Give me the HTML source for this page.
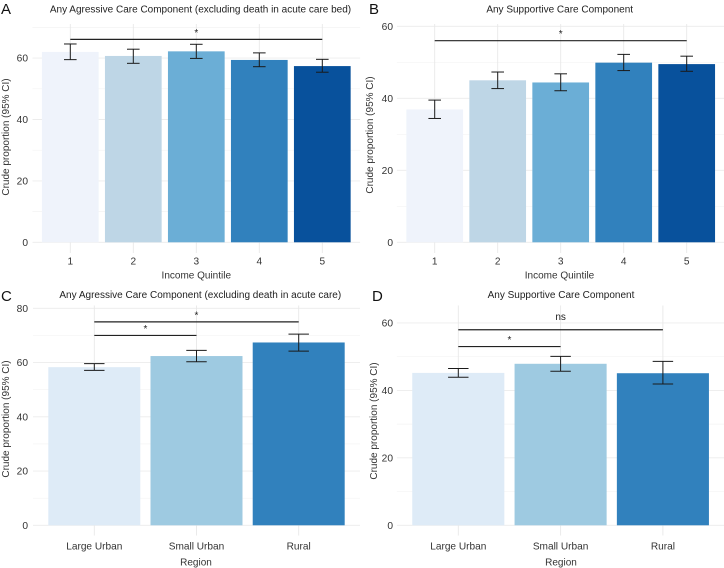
<!DOCTYPE html>
<html>
<head>
<meta charset="utf-8">
<title>Crude proportion charts</title>
<style>
html,body{margin:0;padding:0;background:#fff;}
#figure{display:block;width:724px;height:568px;font-family:"Liberation Sans",sans-serif;}
</style>
</head>
<body>
<svg id="figure" xmlns="http://www.w3.org/2000/svg" width="724" height="568" viewBox="0 0 724 568"></svg>
<script>
var quintiles = ["1","2","3","4","5"];
var regions = ["Large Urban","Small Urban","Rural"];

var quintileColors = ["#eff3fb","#bed6e6","#6baed6","#3181bd","#08519c"];
var regionColors = ["#deebf7","#9ecae1","#3181bd"];

var aValues = [62.0,60.7,62.2,59.4,57.4];
var aLower = [59.5,58.3,59.9,57.2,55.4];
var aUpper = [64.6,62.9,64.5,61.7,59.6];
var aMajorTicks = [0,20,40,60];
var aMinorTicks = [10,30,50,70];

var bValues = [36.9,45.0,44.4,49.9,49.5];
var bLower = [34.4,42.7,42.1,47.7,47.5];
var bUpper = [39.5,47.3,46.8,52.2,51.7];
var bMajorTicks = [0,20,40,60];
var bMinorTicks = [10,30,50];

var cValues = [58.3,62.4,67.4];
var cLower = [57.1,60.3,64.2];
var cUpper = [59.6,64.5,70.5];
var cMajorTicks = [0,20,40,60,80];
var cMinorTicks = [10,30,50,70];

var dValues = [45.2,47.9,45.1];
var dLower = [43.9,45.7,41.9];
var dUpper = [46.5,50.1,48.6];
var dMajorTicks = [0,20,40,60];
var dMinorTicks = [10,30,50];

var aBrackets = [{from:0,to:4,value:66.1,label:"*"}];
var bBrackets = [{from:0,to:4,value:56,label:"*"}];
var cBrackets = [{from:0,to:2,value:75,label:"*"},{from:0,to:1,value:70,label:"*"}];
var dBrackets = [{from:0,to:2,value:58,label:"ns"},{from:0,to:1,value:53,label:"*"}];

var svg = document.getElementById('figure');
var NS = 'http://www.w3.org/2000/svg';

function shape(tag, attrs, parent) {
  var el = document.createElementNS(NS, tag);
  for (var k in attrs) { el.setAttribute(k, attrs[k]); }
  parent.appendChild(el);
  return el;
}

function label(str, x, y, size, anchor, fill, parent, rotate) {
  var el = shape('text', {x:x, y:y, 'font-size':size, 'text-anchor':anchor, fill:fill}, parent);
  if (rotate) { el.setAttribute('transform', 'rotate(-90 ' + x + ' ' + y + ')'); }
  el.textContent = str;
  return el;
}

function drawPanel(p) {
  var g = shape('g', {}, svg);
  
  

  function xAt(i) { return p.x0 + i * p.step; }
  function yAt(v) { return p.y0 - v * p.pxPerUnit; }
  var left = xAt(0) - 0.6 * p.step;
  var right = xAt(p.categories.length - 1) + 0.6 * p.step;

  p.minor.forEach(function (t) {
    var l = shape('line', {x1:left, x2:right, y1:yAt(t), y2:yAt(t), stroke:'#f3f3f3', 'stroke-width':0.7}, g);
    
    
  });
  p.major.forEach(function (t) {
    var l = shape('line', {x1:left, x2:right, y1:yAt(t), y2:yAt(t), stroke:'#ececec', 'stroke-width':0.9}, g);
    
    
    var tx = label(String(t), p.tickRight, yAt(t) + 3.6, 10.2, 'end', '#333', g);
    
    
  });
  p.categories.forEach(function (c, i) {
    var l = shape('line', {x1:xAt(i), x2:xAt(i), y1:p.gridTop, y2:p.gridBottom, stroke:'#e8e8e8', 'stroke-width':0.9}, g);
    
    
    var tx = label(c, xAt(i), p.xTickY, 10.1, 'middle', '#333', g);
    
    
  });

  p.values.forEach(function (v, i) {
    var w = 0.9 * p.step;
    var bar = shape('rect', {x:xAt(i) - w / 2, y:yAt(v), width:w, height:p.y0 - yAt(v), fill:p.colors[i]}, g);
    
    
  });

  p.values.forEach(function (v, i) {
    var cap = 0.1 * p.step;
    var eg = shape('g', {stroke:'#1a1a1a', 'stroke-width':1, fill:'none'}, g);
    
    
    shape('line', {x1:xAt(i), x2:xAt(i), y1:yAt(p.upper[i]), y2:yAt(p.lower[i])}, eg);
    shape('line', {x1:xAt(i) - cap, x2:xAt(i) + cap, y1:yAt(p.upper[i]), y2:yAt(p.upper[i])}, eg);
    shape('line', {x1:xAt(i) - cap, x2:xAt(i) + cap, y1:yAt(p.lower[i]), y2:yAt(p.lower[i])}, eg);
  });

  p.brackets.forEach(function (b) {
    var y = yAt(b.value);
    var l = shape('line', {x1:xAt(b.from), x2:xAt(b.to), y1:y, y2:y, stroke:'#222', 'stroke-width':1.2}, g);
    
    
    var offset = b.label === 'ns' ? 9.5 : 3.5;
    var tx = label(b.label, (xAt(b.from) + xAt(b.to)) / 2, y - offset, 10, 'middle', '#222', g);
    
    
  });

  var title = label(p.title, p.titleX, p.titleY, 10, 'middle', '#222', g);
  
  

  var letter = label(p.id, p.letterX, p.letterY, 15, 'start', '#111', g);
  
  

  var yTitle = label('Crude proportion (95% CI)', p.yTitleX, p.yTitleY, 10, 'middle', '#333', g, true);
  
  

  var xTitle = label(p.xTitle, p.xTitleX, p.xTitleY, 10, 'middle', '#333', g);
  
  
}

drawPanel({id:'A', categories:quintiles, colors:quintileColors, values:aValues, lower:aLower, upper:aUpper,
  major:aMajorTicks, minor:aMinorTicks, brackets:aBrackets,
  x0:70.3, step:63, y0:242.3, pxPerUnit:3.07, gridTop:24, gridBottom:253, tickRight:28, xTickY:264.5,
  title:'Any Agressive Care Component (excluding death in acute care bed)', titleX:200.5, titleY:12.5,
  letterX:1, letterY:14, yTitleX:9, yTitleY:137, xTitle:'Income Quintile', xTitleX:196.3, xTitleY:278.5});

drawPanel({id:'B', categories:quintiles, colors:quintileColors, values:bValues, lower:bLower, upper:bUpper,
  major:bMajorTicks, minor:bMinorTicks, brackets:bBrackets,
  x0:434.7, step:63, y0:242.3, pxPerUnit:3.6, gridTop:24, gridBottom:253, tickRight:393, xTickY:264.5,
  title:'Any Supportive Care Component', titleX:559.7, titleY:12.5,
  letterX:369, letterY:14, yTitleX:373, yTitleY:135, xTitle:'Income Quintile', xTitleX:559.5, xTitleY:278.5});

drawPanel({id:'C', categories:regions, colors:regionColors, values:cValues, lower:cLower, upper:cUpper,
  major:cMajorTicks, minor:cMinorTicks, brackets:cBrackets,
  x0:94.3, step:102.2, y0:525.3, pxPerUnit:2.7125, gridTop:305.5, gridBottom:535.5, tickRight:28, xTickY:549.5,
  title:'Any Agressive Care Component (excluding death in acute care)', titleX:200.3, titleY:298,
  letterX:1, letterY:301, yTitleX:9, yTitleY:419, xTitle:'Region', xTitleX:196, xTitleY:565.5});

drawPanel({id:'D', categories:regions, colors:regionColors, values:dValues, lower:dLower, upper:dUpper,
  major:dMajorTicks, minor:dMinorTicks, brackets:dBrackets,
  x0:458.3, step:102.3, y0:525.3, pxPerUnit:3.372, gridTop:305.5, gridBottom:535.5, tickRight:393, xTickY:549.5,
  title:'Any Supportive Care Component', titleX:561, titleY:298,
  letterX:372, letterY:301, yTitleX:377, yTitleY:421, xTitle:'Region', xTitleX:561, xTitleY:565.5});
</script>
</body>
</html>
